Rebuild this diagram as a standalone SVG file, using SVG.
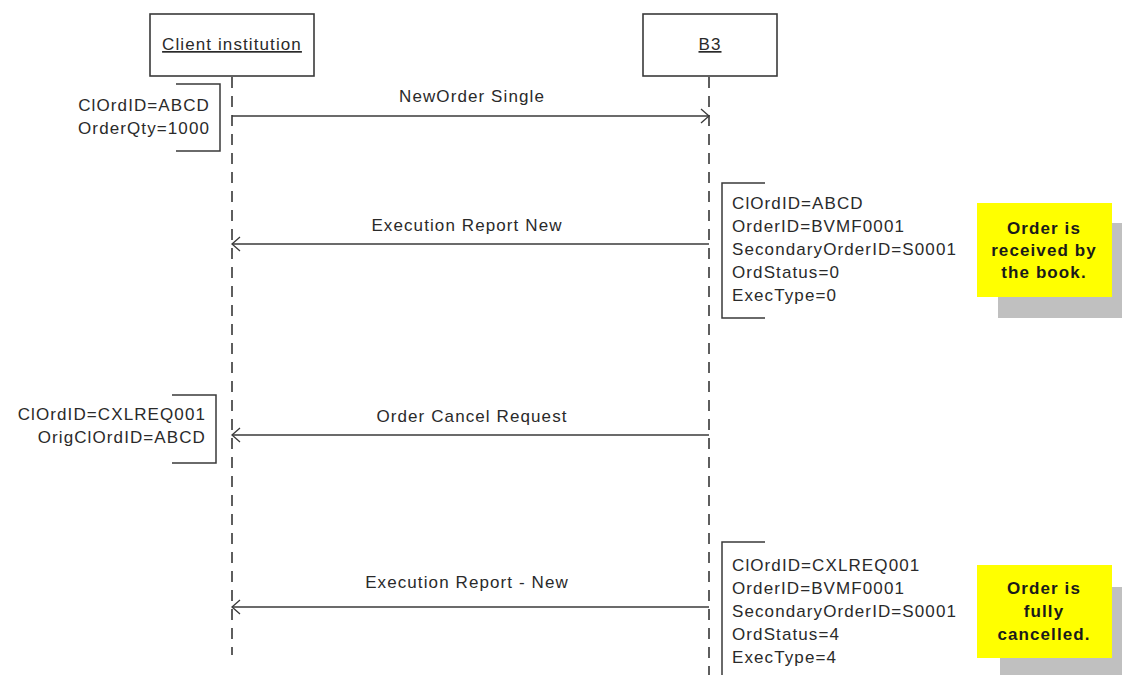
<svg xmlns="http://www.w3.org/2000/svg" width="1122" height="675" viewBox="0 0 1122 675">
<defs>
<style>
text{font-family:"Liberation Sans",Arial,sans-serif;font-size:17px;fill:#2a2a2a;letter-spacing:1.1px}
.c{text-anchor:middle}
.r{text-anchor:end}
.b{font-weight:bold;fill:#1a1a1a}
.u{text-decoration:underline}
.box{fill:#fff;stroke:#3a3a3a;stroke-width:1.6}
.life{stroke:#2a2a2a;stroke-width:1.5;stroke-dasharray:11 8;fill:none}
.msg{stroke:#3a3a3a;stroke-width:1.5;fill:none;marker-end:url(#arr)}
.br{stroke:#3a3a3a;stroke-width:1.5;fill:none}
.note{fill:#ffff00}
.shadow{fill:#c0c0c0}
</style>
<marker id="arr" markerUnits="userSpaceOnUse" markerWidth="12" markerHeight="18" refX="9" refY="8" orient="auto">
<path d="M1,1 L9,8 L1,15" fill="none" stroke="#3a3a3a" stroke-width="1.3"/>
</marker>
</defs>
<rect width="1122" height="675" fill="#fff"/>

<g id="client">
<rect class="box" x="150" y="14" width="164" height="62"/>
<text class="c u" x="232" y="50">Client institution</text>
<line class="life" x1="232" y1="77" x2="232" y2="655"/>
</g>

<g id="b3">
<rect class="box" x="643" y="14" width="134" height="62"/>
<text class="c u" x="710" y="50">B3</text>
<line class="life" x1="709" y1="77" x2="709" y2="675"/>
</g>

<g id="connectors">
<line class="msg" x1="232" y1="116" x2="709" y2="116"/>
<text class="c" x="472" y="102">NewOrder Single</text>
<line class="msg" x1="709" y1="244" x2="232" y2="244"/>
<text class="c" x="467" y="231">Execution Report New</text>
<line class="msg" x1="709" y1="435" x2="232" y2="435"/>
<text class="c" x="472" y="422">Order Cancel Request</text>
<line class="msg" x1="709" y1="607" x2="232" y2="607"/>
<text class="c" x="467" y="588">Execution Report - New</text>
</g>

<g id="note-client-1">
<path class="br" d="M176,84 H220 V151 H176"/>
<text class="r" x="210" y="111">ClOrdID=ABCD</text>
<text class="r" x="210" y="134">OrderQty=1000</text>
</g>

<g id="note-b3-1">
<path class="br" d="M765,183 H722 V318 H765"/>
<text x="732" y="209">ClOrdID=ABCD</text>
<text x="732" y="232">OrderID=BVMF0001</text>
<text x="732" y="255">SecondaryOrderID=S0001</text>
<text x="732" y="278">OrdStatus=0</text>
<text x="732" y="301">ExecType=0</text>
</g>

<g id="note-received">
<rect class="shadow" x="998" y="223" width="135" height="95"/>
<rect class="note" x="977" y="203" width="135" height="94"/>
<text class="c b" x="1044" y="234">Order is</text>
<text class="c b" x="1044" y="256">received by</text>
<text class="c b" x="1044" y="278">the book.</text>
</g>

<g id="note-client-2">
<path class="br" d="M172,395 H216 V463 H172"/>
<text class="r" x="206" y="420">ClOrdID=CXLREQ001</text>
<text class="r" x="206" y="443">OrigClOrdID=ABCD</text>
</g>

<g id="note-b3-2">
<path class="br" d="M765,542 H722 V675"/>
<text x="732" y="571">ClOrdID=CXLREQ001</text>
<text x="732" y="594">OrderID=BVMF0001</text>
<text x="732" y="617">SecondaryOrderID=S0001</text>
<text x="732" y="640">OrdStatus=4</text>
<text x="732" y="663">ExecType=4</text>
</g>

<g id="note-cancelled">
<rect class="shadow" x="1000" y="587" width="135" height="95"/>
<rect class="note" x="977" y="565" width="135" height="93"/>
<text class="c b" x="1044" y="594">Order is</text>
<text class="c b" x="1044" y="617">fully</text>
<text class="c b" x="1044" y="640">cancelled.</text>
</g>
</svg>
